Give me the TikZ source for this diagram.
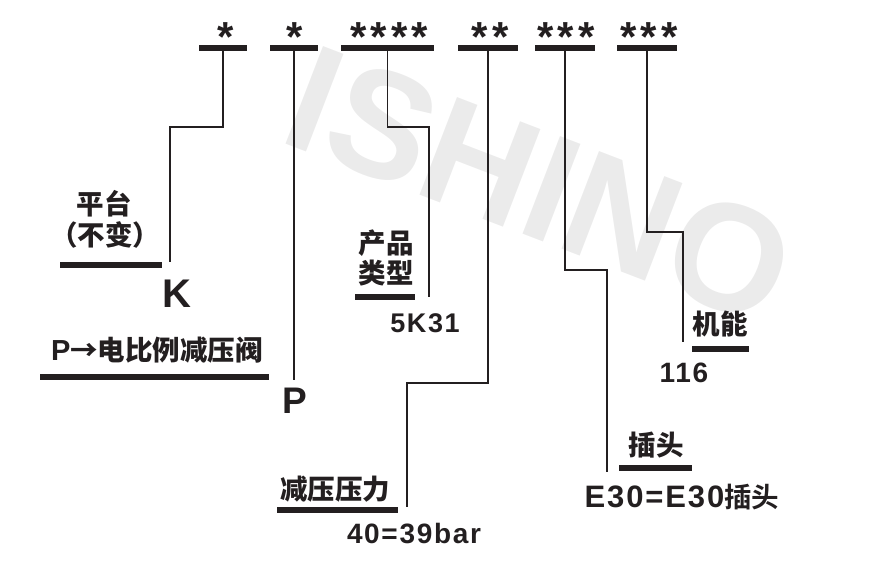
\documentclass[tikz,border=0pt]{standalone}
\usepackage{fontspec}
\setmainfont{Liberation Sans}
\newfontfamily\cjk{Noto Sans CJK SC Black}
\newfontfamily\latsp{Liberation Sans}[LetterSpace=6]
\newfontfamily\astfont{Liberation Sans}[LetterSpace=10]
\definecolor{ink}{HTML}{231F20}
\definecolor{wmark}{HTML}{EBEBEB}
\tikzset{
  bar/.style={fill=ink, inner sep=0pt, minimum height=6pt, draw=none},
  conn/.style={line width=1.4pt, draw=ink},
  cj/.style={font=\cjk\fontsize{27.5}{27.5}\selectfont, inner sep=0pt, text=ink, text height=24pt, text depth=3pt, anchor=center},
  la/.style={font=\latsp\bfseries\fontsize{28}{28}\selectfont, inner sep=0pt, text=ink, anchor=base},
  ast/.style={font=\astfont\bfseries\fontsize{42}{42}\selectfont, inner sep=0pt, text=ink, anchor=base},
}
\begin{document}
\begin{tikzpicture}[x=1pt,y=-1pt]
\useasboundingbox (0,0) rectangle (871,586);
% watermark
\node[rotate=-21, text=wmark, font=\bfseries\fontsize{152}{152}\selectfont, inner sep=0pt] (wm) at (540,185) {ISHINO};
% top bars
\node[bar, minimum width=48pt] (b1) at (223,48) {};
\node[bar, minimum width=48pt] (b2) at (294,48) {};
\node[bar, minimum width=93pt] (b3) at (387.5,48) {};
\node[bar, minimum width=60pt] (b4) at (488,48) {};
\node[bar, minimum width=60pt] (b5) at (565,48) {};
\node[bar, minimum width=60pt] (b6) at (647,48) {};
% asterisks
\node[ast] (s1) at (226,51.5) {*};
\node[ast] (s2) at (295,51.5) {*};
\node[ast] (s3) at (389,51.5) {****};
\node[ast] (s4) at (490,51.5) {**};
\node[ast] (s5) at (566,51.5) {***};
\node[ast] (s6) at (649,51.5) {***};
% bend and end coordinates
\coordinate (j1) at (170,127); \coordinate (k1) at (170,262);
\coordinate (k2) at (294,380);
\coordinate (j3) at (429,127); \coordinate (k3) at (429,297);
\coordinate (j4) at (407,383); \coordinate (k4) at (407,507);
\coordinate (j5) at (607,270); \coordinate (k5) at (607,472);
\coordinate (j6) at (683,232); \coordinate (k6) at (683,342);
% connectors
\draw[conn] (b1.south) |- (j1) -- (k1);
\draw[conn] (b2.south) -- (k2);
\draw[conn] (b3.south) |- (j3) -- (k3);
\draw[conn] (b4.south) |- (j4) -- (k4);
\draw[conn] (b5.south) |- (j5) -- (k5);
\draw[conn] (b6.south) |- (j6) -- (k6);
% underline bars
\node[bar, minimum width=102pt] (u1) at (111,265) {};
\node[bar, minimum width=229pt] (u2) at (154.5,376.5) {};
\node[bar, minimum width=60pt] (u3) at (385,297) {};
\node[bar, minimum width=121pt] (u4) at (337.5,510) {};
\node[bar, minimum width=73pt] (u5) at (655.5,467.5) {};
\node[bar, minimum width=57pt] (u6) at (720.5,349) {};
% labels
\node[cj] (t1a) at (104,204) {平台};
\node[cj] (t1b) at (105,235) {（不变）};
\node[la, font=\latsp\bfseries\fontsize{40}{40}\selectfont] (vK) at (177,307) {K};
\node[cj] (t2) at (157,350) {{\latsp\bfseries\fontsize{29}{29}\selectfont P}→电比例减压阀};
\node[la, font=\latsp\bfseries\fontsize{37}{37}\selectfont] (vP) at (295,413) {P};
\node[cj] (t3a) at (386,243) {产品};
\node[cj] (t3b) at (386,273) {类型};
\node[la, font=\latsp\bfseries\fontsize{27}{27}\selectfont] (v3) at (425,332) {5K31};
\node[cj] (t4) at (335,489) {减压压力};
\node[la] (v4) at (414,543) {40=39bar};
\node[cj] (t5) at (656,445) {插头};
\node[la, font=\latsp\bfseries\fontsize{31}{31}\selectfont] (v5) at (682,507) {E30=E30{\cjk\fontsize{27.5}{27.5}\selectfont 插头}};
\node[cj] (t6) at (720,324) {机能};
\node[la] (v6) at (684,382) {116};
\end{tikzpicture}
\end{document}
